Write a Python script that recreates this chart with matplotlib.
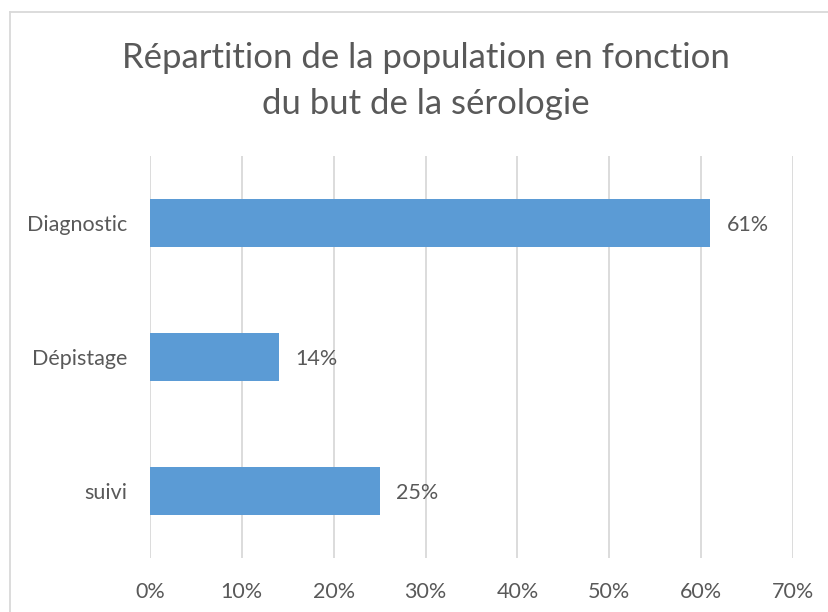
import matplotlib
matplotlib.use("Agg")
import matplotlib.pyplot as plt
from matplotlib.lines import Line2D
from matplotlib.ticker import FuncFormatter

categories = ["Diagnostic", "Dépistage", "suivi"]
values = [61, 14, 25]
xticks = [0, 10, 20, 30, 40, 50, 60, 70]
title = "Répartition de la population en fonction\ndu but de la sérologie"

W, H = 829, 612
text_color = "#595959"
bar_color = "#5B9BD5"
grid_color = "#D9D9D9"

plt.rcParams["font.family"] = ["Lato", "DejaVu Sans"]

fig = plt.figure(figsize=(W / 100, H / 100), dpi=100)
ax = fig.add_axes([150 / W, 1 - 558 / H, (793 - 150) / W, (558 - 156) / H])

ypos = list(range(len(categories)))
ax.barh(ypos, values, height=0.36, color=bar_color, zorder=3)
for y, v in zip(ypos, values):
    ax.annotate(f"{v}%", (v, y), xytext=(12, -1.5), textcoords="offset points",
                va="center", ha="left", fontsize=15.5, color=text_color)

ax.set_xlim(0, 70)
ax.set_ylim(len(categories) - 0.5, -0.5)
ax.set_yticks(ypos)
ax.set_yticklabels(categories)
ax.set_xticks(xticks)
ax.xaxis.set_major_formatter(FuncFormatter(lambda v, _: f"{v:.0f}%"))
ax.tick_params(axis="both", length=0, labelsize=15.5, colors=text_color)
ax.tick_params(axis="x", pad=17)
ax.tick_params(axis="y", pad=16.5)
ax.grid(axis="x", color=grid_color, linewidth=1.3, zorder=0)
for s in ax.spines.values():
    s.set_visible(False)

fig.text(0.5 * (123 + 728) / W, 1 - 81 / H, title, ha="center", va="center",
         fontsize=25, color=text_color, linespacing=1.5)

# chart frame (top and left edges visible)
fig.add_artist(Line2D([10 / W, 10 / W], [0, 1 - 12 / H], transform=fig.transFigure,
                      color=grid_color, linewidth=1.3))
fig.add_artist(Line2D([10 / W, 1], [1 - 12 / H, 1 - 12 / H], transform=fig.transFigure,
                      color=grid_color, linewidth=1.3))

fig.savefig("out.png", dpi=100)
